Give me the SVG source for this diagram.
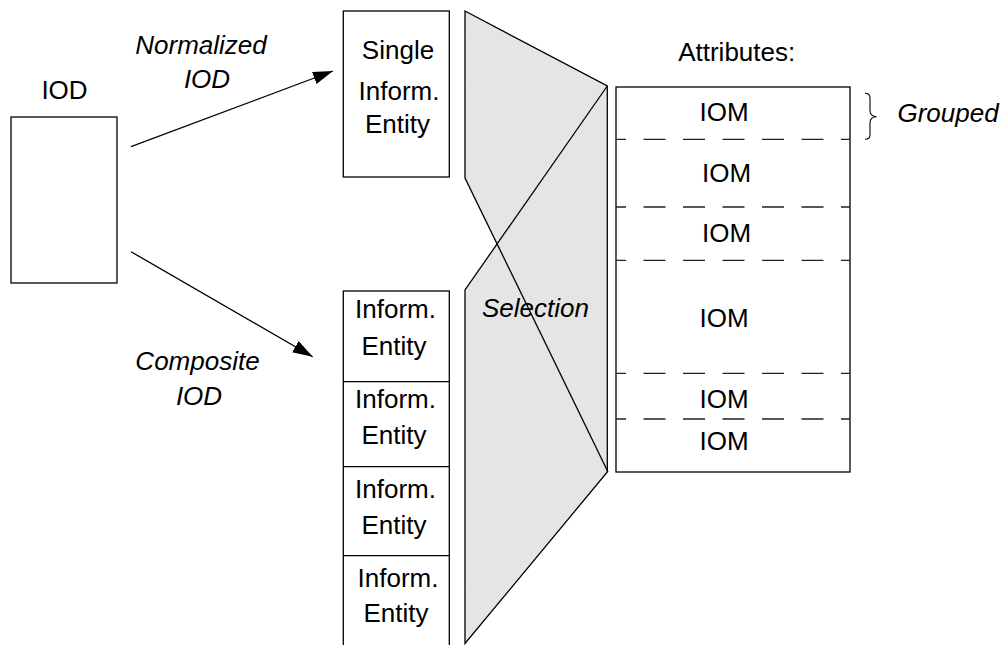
<svg xmlns="http://www.w3.org/2000/svg" width="1004" height="645" viewBox="0 0 1004 645">
<style>
text{font-family:"Liberation Sans",Arial,sans-serif;font-size:26px;fill:#000;text-anchor:middle}
.it{font-style:italic}
.box{fill:#fff;stroke:#000;stroke-width:1.3}
.ln{fill:none;stroke:#000;stroke-width:1.3}
.thin{fill:none;stroke:#000;stroke-width:1.1}
.dash{fill:none;stroke:#222;stroke-width:1.3;stroke-dasharray:22 17.5;stroke-dashoffset:12}
</style>
<defs>
<marker id="ah" markerUnits="userSpaceOnUse" markerWidth="22" markerHeight="14" refX="20" refY="6.5" orient="auto">
<path d="M0,0 L20,6.5 L0,13 z" fill="#000"/>
</marker>
</defs>
<rect width="1004" height="645" fill="#fff"/>

<g id="iod">
<text x="64.5" y="99">IOD</text>
<rect class="box" x="11" y="117" width="106" height="166"/>
</g>

<g id="connectors">
<line class="ln" x1="131" y1="146.7" x2="333" y2="71" marker-end="url(#ah)"/>
<line class="ln" x1="131" y1="251.7" x2="312.7" y2="356.7" marker-end="url(#ah)"/>
</g>

<g id="label-normalized">
<text class="it" x="201" y="53.5">Normalized</text>
<text class="it" x="207" y="87.5">IOD</text>
</g>

<g id="label-composite">
<text class="it" x="197.5" y="370">Composite</text>
<text class="it" x="199" y="405">IOD</text>
</g>

<g id="single-entity">
<rect class="box" x="343.3" y="11" width="106" height="166"/>
<text x="398" y="58.5">Single</text>
<text x="399" y="99.5">Inform.</text>
<text x="397.5" y="132.5">Entity</text>
</g>

<g id="composite-entities">
<rect class="box" x="343.3" y="291" width="106" height="370"/>
<line class="ln" x1="343.3" y1="381.7" x2="449.3" y2="381.7"/>
<line class="ln" x1="343.3" y1="466.7" x2="449.3" y2="466.7"/>
<line class="ln" x1="343.3" y1="555.7" x2="449.3" y2="555.7"/>
<text x="395.5" y="318.3">Inform.</text>
<text x="394" y="355">Entity</text>
<text x="395.5" y="407.7">Inform.</text>
<text x="394" y="444">Entity</text>
<text x="395.5" y="498.3">Inform.</text>
<text x="394" y="534">Entity</text>
<text x="398" y="586.7">Inform.</text>
<text x="396" y="622.3">Entity</text>
</g>

<g id="selection">
<path d="M465,11 L607.3,86 L607.3,472 L465,643.5 L465,290 L497.1,243.9 L465,178 Z" fill="#e5e5e5" stroke="#000" stroke-width="1.3" stroke-linejoin="miter"/>
<line class="ln" x1="497.1" y1="243.9" x2="608" y2="472"/>
<line class="ln" x1="497.1" y1="243.9" x2="607.3" y2="86"/>
<text class="it" x="535.5" y="317.3">Selection</text>
</g>

<g id="attributes">
<text x="736.7" y="60.7">Attributes:</text>
<rect class="box" x="616" y="87" width="234" height="385"/>
<line class="dash" x1="616" y1="139.3" x2="850" y2="139.3"/>
<line class="dash" x1="616" y1="207" x2="850" y2="207"/>
<line class="dash" x1="616" y1="260.3" x2="850" y2="260.3"/>
<line class="dash" x1="616" y1="373.3" x2="850" y2="373.3"/>
<line class="dash" x1="616" y1="419" x2="850" y2="419"/>
<text x="724" y="121">IOM</text>
<text x="726.5" y="181.7">IOM</text>
<text x="726.5" y="241.7">IOM</text>
<text x="724" y="326.7">IOM</text>
<text x="724" y="408.3">IOM</text>
<text x="724" y="450">IOM</text>
</g>

<g id="grouped">
<path class="thin" d="M865,93.3 Q870,93.3 870,98 L870,110 Q870,116.7 876.7,116.7 Q870,116.7 870,123 L870,135 Q870,139.3 865,139.3"/>
<text class="it" x="948" y="121.7">Grouped</text>
</g>
</svg>
